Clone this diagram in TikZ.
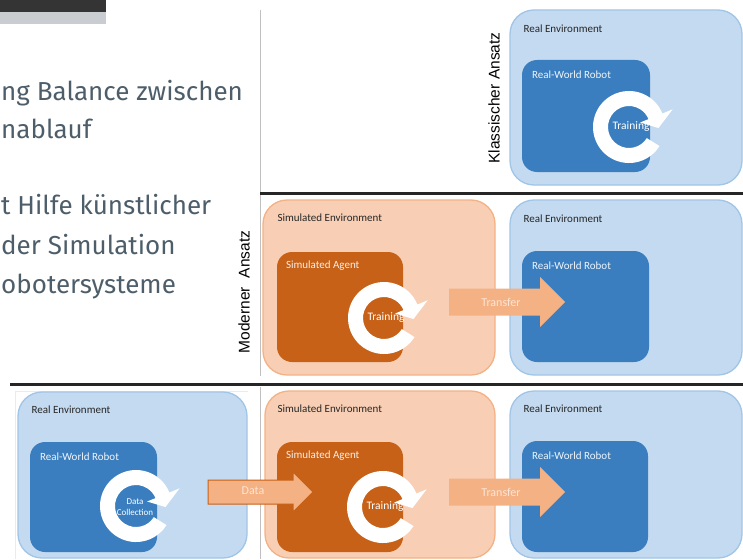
\documentclass[tikz,border=0pt]{standalone}
\usepackage{fontspec}
\setmainfont{Carlito}
\newfontfamily\bodyfont{Fira Sans}
\newfontfamily\tagfont{Liberation Sans}
\usetikzlibrary{calc}

\definecolor{envblue}{RGB}{196,218,240}
\definecolor{envblueline}{RGB}{160,197,231}
\definecolor{robotblue}{RGB}{58,126,191}
\definecolor{simfill}{RGB}{248,207,181}
\definecolor{simline}{RGB}{244,177,131}
\definecolor{agentorange}{RGB}{198,97,23}
\definecolor{arrowfill}{RGB}{244,177,131}
\definecolor{arrowtext}{RGB}{252,229,214}
\definecolor{bodygray}{RGB}{77,94,106}
\definecolor{rulegray}{RGB}{192,192,192}
\definecolor{ruledark}{RGB}{38,38,38}
\definecolor{bardark}{RGB}{52,52,52}
\definecolor{barlight}{RGB}{201,205,210}

\tikzset{
  envbox/.style={draw=envblueline, fill=envblue, line width=1.3pt, rounded corners=24pt, inner sep=0},
  simbox/.style={draw=simline, fill=simfill, line width=1.3pt, rounded corners=24pt, inner sep=0},
  robotbox/.style={fill=robotblue, rounded corners=15pt, inner sep=0},
  agentbox/.style={fill=agentorange, rounded corners=15pt, inner sep=0},
  darklabel/.style={anchor=west, inner sep=0, text=black!85, font=\fontsize{11}{13}\selectfont},
  lightlabel/.style={anchor=west, inner sep=0, text=white!92!robotblue, font=\fontsize{11}{13}\selectfont},
  cyclelabel/.style={inner sep=0, text=white, font=\fontsize{11.5}{13}\selectfont},
  arrowlabel/.style={inner sep=0, text=arrowtext, font=\fontsize{12}{14}\selectfont},
  bodyline/.style={anchor=base west, inner sep=0, text=bodygray, font=\bodyfont\fontsize{26}{30}\selectfont},
  rowtag/.style={rotate=90, inner sep=0, text=black, font=\tagfont\fontsize{15.5}{18}\selectfont},
  thinrule/.style={draw=rulegray, line width=1pt},
  thickrule/.style={draw=ruledark, line width=3pt}
}

% white circular arrow, open on the right, turning clockwise
\newcommand\cyclearrow[1]{%
  \begin{scope}[shift={(#1)}]
    \fill[white] (22:36pt) arc[start angle=22, end angle=328, radius=36pt]
      -- (328:21pt) arc[start angle=328, end angle=22, radius=21pt]
      -- (22:12pt) -- (-2:29.5pt) -- (22:47pt) -- cycle;
  \end{scope}}

% block arrow: tail x, head base x, tip x, centre y, shaft half height, head half height
\newcommand\blockarrow[7]{%
  \fill[#1] (#2,#5-#6) -- (#3,#5-#6) -- (#3,#5-#7) -- (#4,#5)
    -- (#3,#5+#7) -- (#3,#5+#6) -- (#2,#5+#6) -- cycle;}

\begin{document}
\begin{tikzpicture}[x=1pt, y=-1pt]
\useasboundingbox (0,0) rectangle (743,559);
\clip (0,0) rectangle (743,559);

% title bar remnant and bullet text
\fill[bardark] (0,0) rectangle (106,12);
\fill[barlight] (0,12) rectangle (106,24);
\node[bodyline] (t1) at (1,101) {ng Balance zwischen};
\node[bodyline] (t2) at (1,138) {nablauf};
\node[bodyline] (t3) at (1,214) {t Hilfe künstlicher};
\node[bodyline] (t4) at (1,254) {der Simulation};
\node[bodyline] (t5) at (1,293) {obotersysteme};

% rules separating the approaches
\draw[thinrule] (260.5,10) -- (260.5,376);
\draw[thinrule] (260.5,387) -- (260.5,559);
\draw[draw=black!8, line width=0.8pt] (15,559) -- (15,391) -- (248,391);

% ---- classic approach ----
\node[envbox, minimum width=232pt, minimum height=175pt] (reA) at (626,97.5) {};
\node[darklabel] at ($(reA.north west)+(14,19)$) {Real Environment};
\node[robotbox, minimum width=128pt, minimum height=112pt] (rbA) at (586,116) {};
\node[lightlabel] at ($(rbA.north west)+(10,15)$) {Real-World Robot};
\coordinate (cA) at (629,127);
\cyclearrow{cA}
\node[cyclelabel] at ($(cA)+(2,0)$) {Training};
\node[rowtag] (tagA) at (494,98) {Klassischer Ansatz};

\draw[thickrule] (260,193) -- (743,193);

% ---- modern approach ----
\node[simbox, minimum width=232pt, minimum height=175pt] (seB) at (379,287.5) {};
\node[darklabel] at ($(seB.north west)+(15,18)$) {Simulated Environment};
\node[agentbox, minimum width=126pt, minimum height=110pt] (saB) at (340,307) {};
\node[lightlabel, text=white!90!agentorange] at ($(saB.north west)+(9,14)$) {Simulated Agent};
\coordinate (cB) at (384,318);
\cyclearrow{cB}
\node[cyclelabel] at ($(cB)+(2,0)$) {Training};

\node[envbox, minimum width=232pt, minimum height=175pt] (reB) at (626,287.5) {};
\node[darklabel] at ($(reB.north west)+(14,19)$) {Real Environment};
\node[robotbox, minimum width=127pt, minimum height=111pt] (rbB) at (585.5,306.5) {};
\node[lightlabel] at ($(rbB.north west)+(10,15)$) {Real-World Robot};

\blockarrow{arrowfill}{449}{540}{565}{302}{13.5}{25}
\node[arrowlabel] at (501,302) {Transfer};
\node[rowtag] (tagB) at (244,292) {Moderner\ \ Ansatz};

\draw[thickrule] (10,384) -- (743,384);

% ---- combined approach ----
\node[envbox, minimum width=229pt, minimum height=166pt] (reC) at (132.5,475) {};
\node[darklabel] at ($(reC.north west)+(14,18)$) {Real Environment};
\node[robotbox, minimum width=127pt, minimum height=110pt] (rbC) at (93.5,497) {};
\node[lightlabel] at ($(rbC.north west)+(10,15)$) {Real-World Robot};
\coordinate (cC) at (136,506);
\cyclearrow{cC}
\node[cyclelabel, align=center, font=\fontsize{9}{10.5}\selectfont] at ($(cC)+(-1,1)$) {Data\\Collection};

\node[simbox, minimum width=230pt, minimum height=167pt] (seC) at (380,474.5) {};
\node[darklabel] at ($(seC.north west)+(13,18)$) {Simulated Environment};
\node[agentbox, minimum width=126pt, minimum height=110pt] (saC) at (340,497) {};
\node[lightlabel, text=white!90!agentorange] at ($(saC.north west)+(9,14)$) {Simulated Agent};
\coordinate (cD) at (383,507);
\cyclearrow{cD}
\node[cyclelabel] at ($(cD)+(2,0)$) {Training};

\node[envbox, minimum width=232pt, minimum height=167pt] (reD) at (626,474.5) {};
\node[darklabel] at ($(reD.north west)+(14,18)$) {Real Environment};
\node[robotbox, minimum width=126pt, minimum height=111pt] (rbD) at (585,496.5) {};
\node[lightlabel] at ($(rbD.north west)+(10,15)$) {Real-World Robot};

\blockarrow{arrowfill, draw=agentorange, line width=1pt}{208}{293}{313}{492}{12}{20}
\node[arrowlabel] at (253,491) {Data};
\blockarrow{arrowfill}{449}{540}{565}{492}{13.5}{25}
\node[arrowlabel] at (501,492) {Transfer};
\end{tikzpicture}
\end{document}
